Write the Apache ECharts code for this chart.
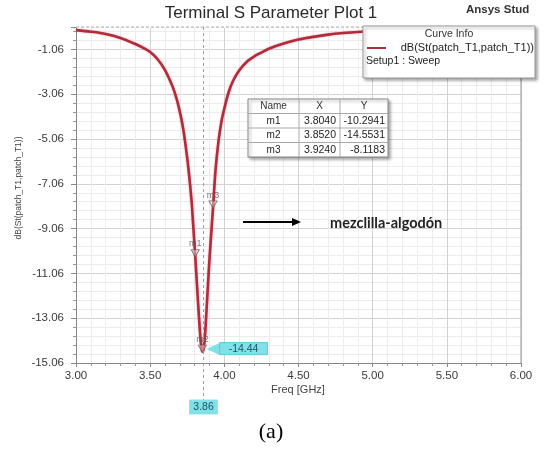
<!DOCTYPE html>
<html>
<head>
<meta charset="utf-8">
<script src="https://cdn.jsdelivr.net/npm/echarts@6/dist/echarts.min.js"></script>
<style>
  html, body { margin: 0; padding: 0; background: #fff; }
  #chart { width: 544px; height: 452px; }
</style>
</head>
<body>
<div id="chart"></div>
<script>
// Return loss sweep of the patch antenna (frequency in GHz, |S11| in dB)
const freqGHz = [3.00, 3.10, 3.20, 3.30, 3.40, 3.45, 3.50, 3.55, 3.60, 3.65, 3.68, 3.70, 3.72, 3.74, 3.76, 3.78, 3.79,
                 3.804, 3.82, 3.835, 3.845, 3.852, 3.86, 3.87, 3.88, 3.90, 3.924, 3.94, 3.96, 3.98, 4.00, 4.03,
                 4.06, 4.10, 4.15, 4.20, 4.25, 4.30, 4.40, 4.50, 4.60, 4.70, 4.80, 4.90, 5.00, 5.25, 5.50, 5.75, 6.00];
const s11dB   = [-0.20, -0.27, -0.37, -0.55, -0.82, -0.98, -1.18, -1.50, -1.98, -2.70, -3.30, -3.85, -4.50, -5.40, -6.50, -7.90, -8.90,
                 -10.29, -12.05, -13.60, -14.35, -14.55, -14.44, -13.80, -12.70, -10.40, -8.12, -6.50, -5.20, -4.30, -3.70, -2.95,
                 -2.45, -2.00, -1.62, -1.38, -1.20, -1.03, -0.80, -0.62, -0.50, -0.40, -0.33, -0.28, -0.25, -0.20, -0.17, -0.15, -0.14];

// Markers placed on the trace
const markerNames = ['m1', 'm2', 'm3'];
const markerX = [3.8040, 3.8520, 3.9240];
const markerY = [-10.2941, -14.5531, -8.1183];

// Data cursor readout
const cursorX = 3.86;
const cursorY = -14.44;

// Axis ranges and tick spacing
const xMin = 3.00, xMax = 6.00, xStep = 0.50;
const yMin = -15.06, yMax = -0.06, yStep = 2;

const titleText = 'Terminal S Parameter Plot 1';
const traceName = 'dB(St(patch_T1,patch_T1))';
const sweepName = 'Setup1 : Sweep';
const xAxisName = 'Freq [GHz]';
const noteText = 'mezclilla-algodón';

const SANS = 'Liberation Sans, Arial, sans-serif';
const chart = echarts.init(document.getElementById('chart'), null, { renderer: 'canvas' });

const curve = freqGHz.map((f, i) => [f, s11dB[i]]);
const markers = markerNames.map((n, i) => ({ name: n, value: [markerX[i], markerY[i]] }));

chart.setOption({
  animation: false,
  backgroundColor: '#fff',
  grid: { left: 76, top: 27, right: 23, bottom: 89 },
  xAxis: {
    type: 'value', min: xMin, max: xMax, interval: xStep,
    axisLine: { lineStyle: { color: '#888' } },
    axisTick: { length: 4, lineStyle: { color: '#888' } },
    minorTick: { show: true, splitNumber: 5, length: 3, lineStyle: { color: '#999' } },
    splitLine: { show: true, lineStyle: { color: '#d2d2d2' } },
    minorSplitLine: { show: true, lineStyle: { color: '#ececec' } },
    axisLabel: { formatter: v => v.toFixed(2), color: '#3a3a3a', fontSize: 11.5, fontFamily: SANS, margin: 7 }
  },
  yAxis: {
    type: 'value', min: yMin, max: yMax, interval: yStep,
    axisLine: { show: true, lineStyle: { color: '#888' } },
    axisTick: { show: true, length: 5, lineStyle: { color: '#888' } },
    minorTick: { show: true, splitNumber: 5, length: 3, lineStyle: { color: '#999' } },
    splitLine: { show: true, lineStyle: { color: '#d2d2d2' } },
    minorSplitLine: { show: true, lineStyle: { color: '#ececec' } },
    axisLabel: { formatter: v => v.toFixed(2), showMaxLabel: false, color: '#3a3a3a', fontSize: 11.5, fontFamily: SANS, margin: 12 }
  },
  series: [
    {
      name: traceName, type: 'line', data: curve, showSymbol: false,
      smooth: 0.3,
      lineStyle: { color: '#b32a3b', width: 2.6, shadowColor: 'rgba(220,70,90,0.5)', shadowBlur: 2 },
      z: 3
    },
    {
      name: 'markers', type: 'scatter', data: markers,
      symbol: 'triangle', symbolRotate: 180, symbolSize: [8, 7], symbolOffset: [0, -3],
      itemStyle: { color: 'rgba(255,255,255,0.5)', borderColor: '#666', borderWidth: 1 },
      label: { show: true, formatter: '{b}', position: 'top', distance: 1, color: '#555', fontSize: 9, fontFamily: SANS },
      z: 4
    }
  ]
});

// Helpers for annotation text
function txt(text, x, y, font, fill, align, valign, extra) {
  return Object.assign({
    type: 'text', z: 20,
    style: { text, x, y, font, fill, align, textAlign: align, verticalAlign: valign, textVerticalAlign: valign }
  }, extra || {});
}

const gTop = chart.convertToPixel({ gridIndex: 0 }, [xMin, yMax]);
const gBot = chart.convertToPixel({ gridIndex: 0 }, [xMax, yMin]);
const cx = chart.convertToPixel({ gridIndex: 0 }, [cursorX, yMin])[0];
const cp = chart.convertToPixel({ gridIndex: 0 }, [cursorX, cursorY]);

const elements = [];

// Plot frame: dashed top edge and solid right edge
elements.push({ type: 'line', z: 5, shape: { x1: gTop[0], y1: gTop[1], x2: gBot[0], y2: gTop[1] }, style: { stroke: '#fff', lineWidth: 1.5 } });
elements.push({ type: 'line', z: 6, shape: { x1: gTop[0], y1: gTop[1], x2: gBot[0], y2: gTop[1] }, style: { stroke: '#aaa', lineWidth: 1, lineDash: [3, 2] } });
elements.push({ type: 'line', z: 6, shape: { x1: gBot[0], y1: gTop[1], x2: gBot[0], y2: gBot[1] }, style: { stroke: '#999', lineWidth: 1 } });

// Cursor line and readouts
elements.push({ type: 'line', z: 7, shape: { x1: cx, y1: gTop[1], x2: cx, y2: 400 }, style: { stroke: '#999', lineWidth: 1, lineDash: [3, 3] } });
elements.push({ type: 'rect', z: 8, shape: { x: cx - 14, y: 400, width: 28, height: 14 }, style: { fill: '#7fe2e8', stroke: '#9adfe3' } });
elements.push(txt(cursorX.toFixed(2), cx, 407.5, '10.5px ' + SANS, '#1d5560', 'center', 'middle', { z: 9 }));
elements.push({ type: 'polygon', z: 8, shape: { points: [[cp[0] + 3, cp[1]], [cp[0] + 16, cp[1] - 6], [cp[0] + 16, cp[1] + 6]] }, style: { fill: '#7fe2e8' } });
elements.push({ type: 'rect', z: 8, shape: { x: cp[0] + 16, y: cp[1] - 6.5, width: 48, height: 12 }, style: { fill: '#7fe2e8', stroke: '#5fc8d0' } });
elements.push(txt(cursorY.toFixed(2), cp[0] + 40, cp[1], '10.5px ' + SANS, '#1d5560', 'center', 'middle', { z: 9 }));

// Curve info box
elements.push({ type: 'rect', z: 10, shape: { x: 363, y: 26, width: 172, height: 52 },
  style: { fill: '#fff', stroke: '#999', lineWidth: 1, shadowColor: 'rgba(0,0,0,0.35)', shadowBlur: 3, shadowOffsetX: 2, shadowOffsetY: 2 } });
elements.push(txt('Curve Info', 449, 34, '10.5px ' + SANS, '#333', 'center', 'middle'));
elements.push({ type: 'line', z: 20, shape: { x1: 367, y1: 48, x2: 386, y2: 48 }, style: { stroke: '#b32a3b', lineWidth: 2 } });
elements.push(txt(traceName, 534, 48, '11px ' + SANS, '#222', 'right', 'middle'));
elements.push(txt(sweepName, 366, 61, '10.5px ' + SANS, '#222', 'left', 'middle'));

// Marker table
const colX = [248, 299, 340, 388];
const rowY = [99, 113.5, 128, 142.5, 157];
elements.push({ type: 'rect', z: 10, shape: { x: colX[0], y: rowY[0], width: colX[3] - colX[0], height: rowY[4] - rowY[0] },
  style: { fill: '#fff', stroke: '#888', lineWidth: 1, shadowColor: 'rgba(0,0,0,0.35)', shadowBlur: 3, shadowOffsetX: 2, shadowOffsetY: 2 } });
for (let r = 1; r < 4; r++) {
  elements.push({ type: 'line', z: 11, shape: { x1: colX[0], y1: rowY[r], x2: colX[3], y2: rowY[r] }, style: { stroke: '#aaa', lineWidth: 1 } });
}
for (let c = 1; c < 3; c++) {
  elements.push({ type: 'line', z: 11, shape: { x1: colX[c], y1: rowY[0], x2: colX[c], y2: rowY[4] }, style: { stroke: '#aaa', lineWidth: 1 } });
}
const header = ['Name', 'X', 'Y'];
header.forEach((h, c) => elements.push(txt(h, (colX[c] + colX[c + 1]) / 2, (rowY[0] + rowY[1]) / 2, '10px ' + SANS, '#333', 'center', 'middle')));
markerNames.forEach((n, r) => {
  const yc = (rowY[r + 1] + rowY[r + 2]) / 2;
  elements.push(txt(n, (colX[0] + colX[1]) / 2, yc, '10px ' + SANS, '#222', 'center', 'middle'));
  elements.push(txt(markerX[r].toFixed(4), colX[2] - 4, yc, '10.5px ' + SANS, '#222', 'right', 'middle'));
  elements.push(txt(markerY[r].toFixed(4), colX[3] - 3, yc, '10.5px ' + SANS, '#222', 'right', 'middle'));
});

// Arrow with material note
elements.push({ type: 'line', z: 12, shape: { x1: 243, y1: 222, x2: 294, y2: 222 }, style: { stroke: '#000', lineWidth: 2 } });
elements.push({ type: 'polygon', z: 12, shape: { points: [[301, 222], [292, 218], [292, 226]] }, style: { fill: '#000' } });
elements.push(txt(noteText, 330, 223, 'bold 14.5px Lato, "Open Sans", sans-serif', '#222', 'left', 'middle'));

// Titles and axis names
elements.push(txt(titleText, 271, 13, '17px ' + SANS, '#2a2a2a', 'center', 'middle'));
elements.push(txt('Ansys Stud', 466, 10, 'bold 11.5px ' + SANS, '#333', 'left', 'middle'));
elements.push(txt(xAxisName, 298, 390, '11px ' + SANS, '#444', 'center', 'middle'));
elements.push({ type: 'text', z: 20, x: 19, y: 188, rotation: Math.PI / 2,
  style: { text: traceName, x: 0, y: 0, font: '8.5px ' + SANS, fill: '#444', align: 'center', textAlign: 'center', verticalAlign: 'middle', textVerticalAlign: 'middle' } });
elements.push(txt('(a)', 271, 432, '22px "Liberation Serif", "Times New Roman", serif', '#000', 'center', 'middle'));

chart.setOption({ graphic: { elements } });
</script>
</body>
</html>
